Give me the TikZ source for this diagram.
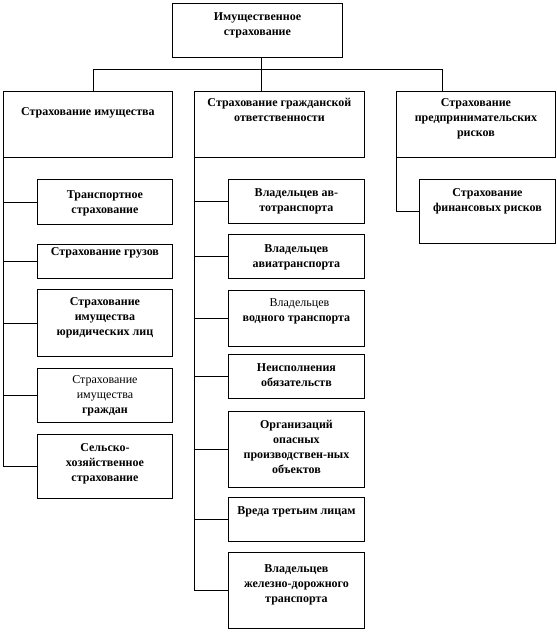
\documentclass[tikz,border=0pt]{standalone}
\usepackage{fontspec}
\setmainfont{Liberation Serif}
\begin{document}
\begin{tikzpicture}[
  x=1pt, y=-1pt,
  line width=0.9pt,
  box/.style={draw, anchor=north west, inner sep=0pt},
  boxtext/.style={anchor=north, align=center, inner sep=0pt,
    font=\fontsize{12}{15}\selectfont\bfseries}
]
\useasboundingbox (0,0) rectangle (557,632);
% top level
\node[box, minimum width=170pt, minimum height=54pt,
  label={[boxtext, yshift=-9pt]north:Имущественное\\страхование}] (top) at (172,3) {};
% second level
\node[box, minimum width=169pt, minimum height=66pt,
  label={[boxtext, yshift=-16pt]north:Страхование имущества}] (prop) at (3,91) {};
\node[box, minimum width=170pt, minimum height=66pt,
  label={[boxtext, yshift=-7pt]north:Страхование гражданской\\ответственности}] (civil) at (194,91) {};
\node[box, minimum width=159pt, minimum height=66pt,
  label={[boxtext, yshift=-7pt]north:Страхование\\предпринимательских\\рисков}] (biz) at (396,91) {};
% property branch
\node[box, minimum width=135pt, minimum height=45pt,
  label={[boxtext, yshift=-11pt]north:Транспортное\\страхование}] (transp) at (37,179) {};
\node[box, minimum width=135pt, minimum height=34pt,
  label={[boxtext, yshift=-3pt]north:Страхование грузов}] (cargo) at (37,244) {};
\node[box, minimum width=135pt, minimum height=67pt,
  label={[boxtext, yshift=-8pt]north:Страхование\\имущества\\юридических лиц}] (legal) at (37,289) {};
\node[box, minimum width=135pt, minimum height=54pt,
  label={[boxtext, yshift=-7pt]north:{\mdseries Страхование}\\{\mdseries имущества}\\граждан}] (citizen) at (37,368) {};
\node[box, minimum width=135pt, minimum height=64pt,
  label={[boxtext, yshift=-9pt]north:Сельско-\\хозяйственное\\страхование}] (agri) at (37,434) {};
% liability branch
\node[box, minimum width=136pt, minimum height=44pt,
  label={[boxtext, yshift=-9pt]north:Владельцев ав-\\тотранспорта}] (auto) at (228,179) {};
\node[box, minimum width=136pt, minimum height=44pt,
  label={[boxtext, yshift=-10pt]north:Владельцев\\авиатранспорта}] (avia) at (228,234) {};
\node[box, minimum width=136pt, minimum height=56pt,
  label={[boxtext, yshift=-8pt]north:{\mdseries\ \ Владельцев}\\водного транспорта}] (water) at (228,290) {};
\node[box, minimum width=136pt, minimum height=44pt,
  label={[boxtext, yshift=-9pt]north:Неисполнения\\обязательств}] (duty) at (228,354) {};
\node[box, minimum width=136pt, minimum height=76pt,
  label={[boxtext, yshift=-9pt]north:Организаций\\опасных\\производствен-ных\\объектов}] (hazard) at (228,411) {};
\node[box, minimum width=136pt, minimum height=44pt,
  label={[boxtext, yshift=-9pt]north:Вреда третьим лицам}] (third) at (228,497) {};
\node[box, minimum width=136pt, minimum height=76pt,
  label={[boxtext, yshift=-12pt]north:Владельцев\\железно-дорожного\\транспорта}] (rail) at (228,552) {};
% business branch
\node[box, minimum width=136pt, minimum height=64pt,
  label={[boxtext, yshift=-9pt]north:Страхование\\финансовых рисков}] (fin) at (419,179) {};
% connectors
\coordinate (hub) at (261,69);
\coordinate (hubL) at (93,69);
\coordinate (hubR) at (442,69);
\draw (top.south -| hub) -- (hub);
\draw (hubL) -- (hubR);
\draw (hubL) -- (hubL |- prop.north);
\draw (hub) -- (hub |- civil.north);
\draw (hubR) -- (hubR |- biz.north);
\draw (prop.south west) |- (agri.west);
\foreach \n in {transp,cargo,legal,citizen}
  \draw (prop.south west |- \n.west) -- (\n.west);
\draw (civil.south west) |- (rail.west);
\foreach \n in {auto,avia,water,duty,hazard,third}
  \draw (civil.south west |- \n.west) -- (\n.west);
\draw (biz.south west) |- (fin.west);
\end{tikzpicture}
\end{document}
